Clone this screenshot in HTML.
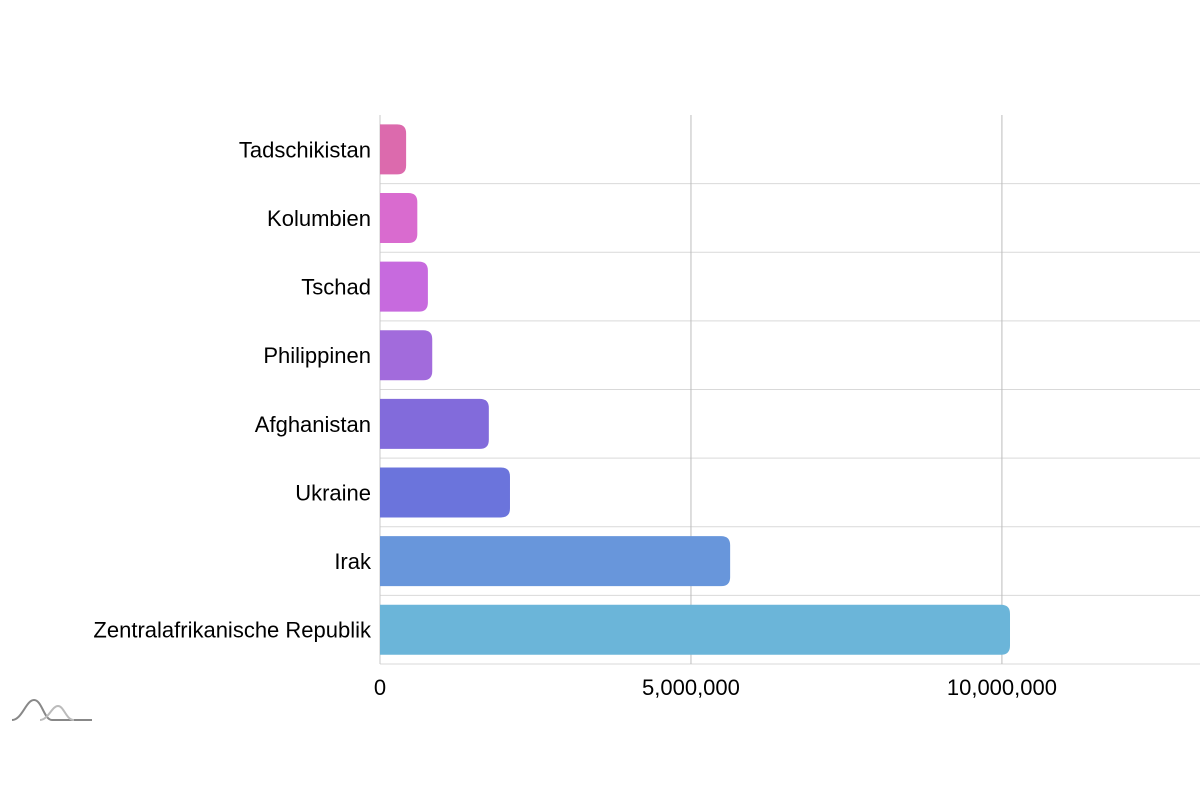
<!DOCTYPE html>
<html><head><meta charset="utf-8"><style>
html,body{margin:0;padding:0;background:#fff;width:1200px;height:800px;overflow:hidden}
text{font-family:"Liberation Sans",sans-serif}
</style></head><body>
<svg id="chart" width="1200" height="800" xmlns="http://www.w3.org/2000/svg">
<g id="grid"></g>
<g id="bars"></g>
<g id="ylabels"></g>
<g id="xlabels"></g>
<g fill="none" stroke-width="2">
<path d="M12 720 C22 720 26 700 34 700 C42 700 44 720 52 720 L92 720" stroke="#888"/>
<path d="M40 720 C48 720 52 706 58 706 C64 706 66 720 74 720" stroke="#bbb"/>
</g>
</svg>
<script>
const categories=["Tadschikistan","Kolumbien","Tschad","Philippinen","Afghanistan","Ukraine","Irak","Zentralafrikanische Republik"];
const values=[420000,600000,770000,840000,1750000,2090000,5630000,10130000];
const colors=["#dc6aad","#d96bcf","#c76ade","#a26bdc","#826bdb","#6b74dc","#6896db","#6bb5d9"];
const xTicks=[0,5000000,10000000];
const xTickLabels=["0","5,000,000","10,000,000"];
const L=380,R=1200,T=115,B=664,xMax=13185000;
const NS="http://www.w3.org/2000/svg";
const rowH=(B-T)/categories.length;
const x=v=>L+v/xMax*(R-L);
function mk(tag,attrs,parent){const e=document.createElementNS(NS,tag);for(const k in attrs)e.setAttribute(k,attrs[k]);parent.appendChild(e);return e;}
const grid=document.getElementById('grid'),bars=document.getElementById('bars'),yl=document.getElementById('ylabels'),xl=document.getElementById('xlabels');
for(let i=1;i<=categories.length;i++){
  const l=mk('line',{x1:L,x2:R,y1:T+i*rowH,y2:T+i*rowH,stroke:'#d9d9d9','stroke-width':1},grid);
  
  
}
xTicks.forEach((t,i)=>{
  const l=mk('line',{x1:x(t),x2:x(t),y1:T,y2:B,stroke:i==0?'#c8c8c8':'#bdbdbd','stroke-width':1},grid);
  
  
  const tx=mk('text',{x:x(t),y:B+31,'text-anchor':'middle','font-size':22,fill:'#000'},xl);
  tx.textContent=xTickLabels[i];
  
  
});
categories.forEach((c,i)=>{
  const cy=T+(i+0.5)*rowH,h=50,w=x(values[i])-L,r=Math.min(9,w/2);
  const y0=cy-h/2;
  const p=mk('path',{d:`M${L} ${y0} H${L+w-r} Q${L+w} ${y0} ${L+w} ${y0+r} V${y0+h-r} Q${L+w} ${y0+h} ${L+w-r} ${y0+h} H${L} Z`,fill:colors[i]},bars);
  
  
  const t=mk('text',{x:L-9,y:cy+8,'text-anchor':'end','font-size':22,fill:'#000'},yl);
  t.textContent=c;
  
  
});
</script>
</body></html>
